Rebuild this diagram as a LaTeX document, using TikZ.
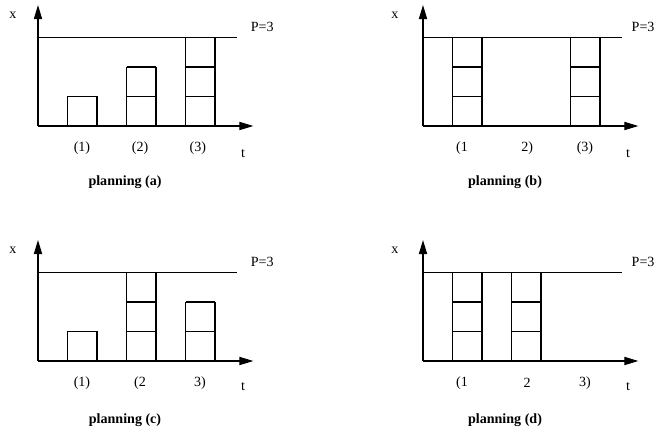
\documentclass[tikz,border=0pt]{standalone}
\usepackage{fontspec}
\setmainfont{Liberation Serif}
\usetikzlibrary{arrows.meta}

\begin{document}
\begin{tikzpicture}[x=0.03cm,y=-0.03cm,
    axis/.style={line width=1pt,-{Triangle[length=12pt,width=7pt]}},
    limit/.style={line width=1pt},
    slot/.style={draw,line width=1pt},
    tick/.style={font=\fontsize{12}{14}\selectfont},
    caption/.style={font=\fontsize{12}{14}\selectfont\bfseries}
]

\useasboundingbox (0,0) rectangle (662,433);

% Planning (a)
\begin{scope}[shift={(38,126)},x=0.885cm,y=0.885cm]
\draw[axis] (0,0) -- (0,4.1);
\draw[axis] (0,0) -- (7.3,0);
\draw[limit] (0,3) -- (6.75,3);
\foreach \c/\h in {1/1,3/2,5/3} {
    \draw[slot] (\c,0) -- (\c,\h) (\c+1,0) -- (\c+1,\h);
    \foreach \k in {1,...,\h}
        \draw[slot] (\c,\k) -- (\c+1,\k);
}
\node[tick] (xa) at (-0.85,3.76) {x};
\node[tick] (ta) at (6.95,-0.92) {t};
\node[tick] (pa) at (7.6,3.36) {P=3};
\node[tick] (a1) at (1.49,-0.75) {(1)};
\node[tick] (a2) at (3.46,-0.75) {(2)};
\node[tick] (a3) at (5.42,-0.75) {(3)};
\node[caption] (capa) at (2.95,-1.9) {planning (a)};
\end{scope}

% Planning (b)
\begin{scope}[shift={(423,126)},x=0.885cm,y=0.885cm]
\draw[axis] (0,0) -- (0,4.1);
\draw[axis] (0,0) -- (7.3,0);
\draw[limit] (0,3) -- (6.75,3);
\foreach \c/\h in {1/3,5/3} {
    \draw[slot] (\c,0) -- (\c,\h) (\c+1,0) -- (\c+1,\h);
    \foreach \k in {1,...,\h}
        \draw[slot] (\c,\k) -- (\c+1,\k);
}
\node[tick] (xb) at (-0.95,3.76) {x};
\node[tick] (tb) at (6.95,-0.92) {t};
\node[tick] (pb) at (7.46,3.36) {P=3};
\node[tick] (b1) at (1.32,-0.75) {(1};
\node[tick] (b2) at (3.53,-0.75) {2)};
\node[tick] (b3) at (5.49,-0.75) {(3)};
\node[caption] (capb) at (2.78,-1.9) {planning (b)};
\end{scope}

% Planning (c)
\begin{scope}[shift={(38,361)},x=0.885cm,y=0.885cm]
\draw[axis] (0,0) -- (0,4.1);
\draw[axis] (0,0) -- (7.3,0);
\draw[limit] (0,3) -- (6.75,3);
\foreach \c/\h in {1/1,3/3,5/2} {
    \draw[slot] (\c,0) -- (\c,\h) (\c+1,0) -- (\c+1,\h);
    \foreach \k in {1,...,\h}
        \draw[slot] (\c,\k) -- (\c+1,\k);
}
\node[tick] (xc) at (-0.85,3.76) {x};
\node[tick] (tc) at (6.95,-0.88) {t};
\node[tick] (pc) at (7.6,3.36) {P=3};
\node[tick] (c1) at (1.49,-0.75) {(1)};
\node[tick] (c2) at (3.46,-0.75) {(2};
\node[tick] (c3) at (5.49,-0.75) {3)};
\node[caption] (capc) at (2.95,-2.0) {planning (c)};
\end{scope}

% Planning (d)
\begin{scope}[shift={(423,361)},x=0.885cm,y=0.885cm]
\draw[axis] (0,0) -- (0,4.1);
\draw[axis] (0,0) -- (7.3,0);
\draw[limit] (0,3) -- (6.75,3);
\foreach \c/\h in {1/3,3/3} {
    \draw[slot] (\c,0) -- (\c,\h) (\c+1,0) -- (\c+1,\h);
    \foreach \k in {1,...,\h}
        \draw[slot] (\c,\k) -- (\c+1,\k);
}
\node[tick] (xd) at (-0.95,3.76) {x};
\node[tick] (td) at (6.95,-0.88) {t};
\node[tick] (pd) at (7.46,3.36) {P=3};
\node[tick] (d1) at (1.32,-0.75) {(1};
\node[tick] (d2) at (3.53,-0.75) {2};
\node[tick] (d3) at (5.49,-0.75) {3)};
\node[caption] (capd) at (2.78,-2.0) {planning (d)};
\end{scope}

\end{tikzpicture}
\end{document}
